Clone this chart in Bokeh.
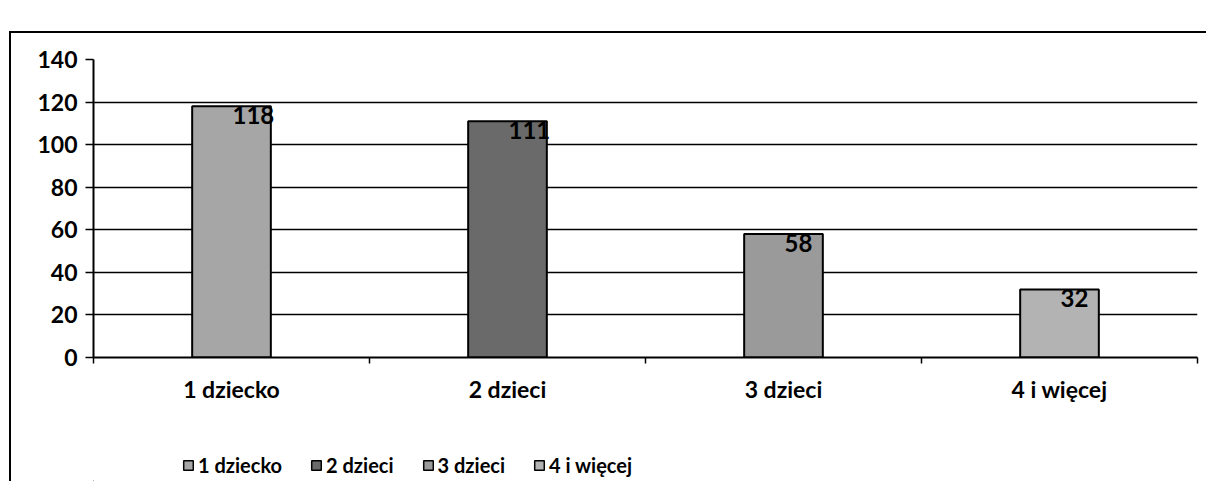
from bokeh.plotting import figure
from bokeh.layouts import column
from bokeh.models import (Range1d, FixedTicker, ColumnDataSource, LabelSet,
                          Legend, LegendItem)
from bokeh.core.properties import value
from bokeh.embed import file_html
from bokeh.resources import INLINE

categories = ["1 dziecko", "2 dzieci", "3 dzieci", "4 i więcej"]
values = [118, 111, 58, 32]
y_ticks = [0, 20, 40, 60, 80, 100, 120, 140]
bar_colors = ["#a6a6a6", "#6a6a6a", "#9a9a9a", "#b3b3b3"]

FONT = "Lato"
W = 1195

xs = [i + 0.5 for i in range(len(categories))]
src = ColumnDataSource(dict(x=xs, top=values, color=bar_colors,
                            lab=[str(v) for v in values], cat=categories))

p = figure(width=W, height=404, output_backend="svg", toolbar_location=None,
           x_range=Range1d(0, len(categories)), y_range=Range1d(0, 140),
           min_border_left=82, min_border_right=9, min_border_top=26,
           min_border_bottom=80)
p.outline_line_color = None
p.background_fill_color = "white"
p.border_fill_color = "white"

r = p.vbar(x="x", top="top", width=0.285, bottom=0, fill_color="color",
           line_color="black", line_width=2, source=src)

# axes
p.yaxis.ticker = FixedTicker(ticks=y_ticks)
p.yaxis.axis_line_color = "black"
p.yaxis.axis_line_width = 2
p.yaxis.major_tick_in = 0
p.yaxis.major_tick_out = 8
p.yaxis.major_tick_line_width = 1.5
p.yaxis.minor_tick_line_color = None
p.yaxis.major_label_text_font = FONT
p.yaxis.major_label_text_font_size = "23px"
p.yaxis.major_label_text_font_style = "bold"
p.yaxis.major_label_text_color = "black"
p.yaxis.major_label_standoff = 8

p.xaxis.ticker = FixedTicker(ticks=xs, minor_ticks=list(range(len(categories) + 1)))
p.xaxis.major_label_overrides = {x: c for x, c in zip(xs, categories)}
p.xaxis.major_tick_line_color = None
p.xaxis.minor_tick_in = 0
p.xaxis.minor_tick_out = 6
p.xaxis.minor_tick_line_width = 1.5
p.xaxis.minor_tick_line_color = "black"
p.xaxis.axis_line_color = "black"
p.xaxis.axis_line_width = 2
p.xaxis.major_label_text_font = FONT
p.xaxis.major_label_text_font_size = "23px"
p.xaxis.major_label_text_font_style = "bold"
p.xaxis.major_label_text_color = "black"
p.xaxis.major_label_standoff = 11

p.xgrid.grid_line_color = None
p.ygrid.ticker = FixedTicker(ticks=y_ticks)
p.ygrid.grid_line_color = "black"
p.ygrid.grid_line_width = 1.5

labels = LabelSet(x="x", y="top", text="lab", source=src, text_align="left",
                  text_baseline="top", y_offset=0, x_offset=1,
                  text_font=value(FONT), text_font_size=value("24px"),
                  text_font_style=value("bold"),
                  text_color=value("black"))
p.add_layout(labels)

# legend strip (separate figure so it is not clipped by the plot frame)
q = figure(width=W, height=44, output_backend="svg", toolbar_location=None,
           x_range=Range1d(100, 101), y_range=Range1d(1000, 1001),
           min_border=0, min_border_left=0, min_border_right=0,
           min_border_top=0, min_border_bottom=0)
q.axis.visible = False
q.grid.visible = False
q.outline_line_color = None
q.background_fill_color = "white"
q.border_fill_color = "white"
rq = q.vbar(x="x", top="top", width=0.285, bottom=0, fill_color="color",
            line_color="black", line_width=1.5, source=src)

items = [LegendItem(label=c, renderers=[rq], index=i) for i, c in enumerate(categories)]
legend = Legend(items=items, orientation="horizontal", location=(89, 4),
                label_text_font=FONT, label_text_font_size="20px",
                label_text_font_style="bold", label_text_color="black",
                glyph_width=12, glyph_height=12, spacing=28,
                label_standoff=4, padding=0, margin=0,
                border_line_color=None, background_fill_alpha=0)
q.add_layout(legend, "center")

layout = column(p, q, spacing=0)
layout.margin = (31, 0, 0, 9)
layout.styles = {"border-left": "2px solid black", "border-top": "2px solid black"}

open("out.html", "w").write(file_html(layout, INLINE))
